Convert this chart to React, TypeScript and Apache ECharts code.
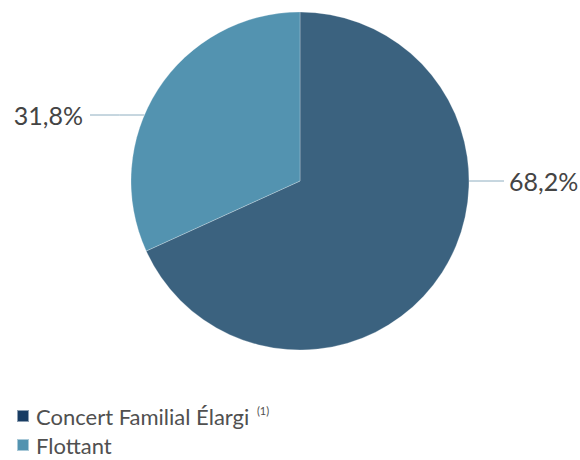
import React, { useEffect, useRef } from "react";
import * as echarts from "echarts";

const categories = ["Concert Familial Élargi", "Flottant"];
const values = [68.2, 31.8];
const sliceColors = ["#3b627f", "#5393b0"];
const legendColors = ["#183c63", "#5393b0"];
const footnotes = ["(1)", ""];

const CX = 300;
const CY = 181;
const R = 169;
const labelYOffset = [0, -66];

export default function App() {
  const ref = useRef<HTMLDivElement>(null);
  useEffect(() => {
    document.body.style.margin = "0";
    const chart = echarts.init(ref.current!, null, { renderer: "svg" });
    const font = "Lato, 'Open Sans', sans-serif";
    chart.setOption({
      animation: false,
      backgroundColor: "#fff",
      legend: {
        orient: "vertical",
        left: 16,
        top: 405,
        height: 56,
        padding: 0,
        itemWidth: 12,
        itemHeight: 12,
        itemGap: 6,
        icon: "rect",
        data: categories.map((c, i) => ({ name: c, itemStyle: { color: legendColors[i] } })),
        formatter: (name: string) => {
          const i = categories.indexOf(name);
          return footnotes[i] ? `${name} {sup|${footnotes[i]}}` : name;
        },
        textStyle: {
          fontFamily: font,
          fontSize: 22,
          lineHeight: 22,
          color: "#505050",
          fontWeight: 400,
          padding: [0, 0, 0, 2],
          rich: {
            sup: { fontSize: 11, lineHeight: 22, color: "#505050", fontFamily: font, verticalAlign: "top", padding: [0, 0, 12, 2] },
          },
        },
      },
      series: [
        {
          type: "pie",
          center: [CX, CY],
          radius: [0, R],
          startAngle: 90,
          clockwise: true,
          data: categories.map((c, i) => ({ name: c, value: values[i], itemStyle: { color: sliceColors[i] } })),
          itemStyle: { borderColor: "rgba(255,255,255,0.5)", borderWidth: 0.5 },
          label: {
            show: true,
            formatter: (p: any) => p.value.toFixed(1).replace(".", ",") + "%",
            fontFamily: font,
            fontSize: 25,
            color: "#444",
            fontWeight: 400,
          },
          labelLine: { show: true, lineStyle: { color: "#8eaec0", width: 1 } },
          labelLayout: (params: any) => {
            const i = params.dataIndex;
            const dy = labelYOffset[i];
            const y = CY + dy;
            const dx = Math.sqrt(R * R - dy * dy);
            if (i === 0) {
              const x0 = CX + dx;
              return {
                x: x0 + 40,
                y,
                align: "left",
                verticalAlign: "middle",
                labelLinePoints: [[x0, y], [x0 + 18, y], [x0 + 35, y]],
              };
            }
            const x0 = CX - dx;
            return {
              x: 83,
              y,
              align: "right",
              verticalAlign: "middle",
              labelLinePoints: [[x0, y], [x0 - 25, y], [90, y]],
            };
          },
          emphasis: { disabled: true },
        },
      ],
    });
    return () => chart.dispose();
  }, []);
  return <div ref={ref} style={{ width: 580, height: 460 }} />;
}
